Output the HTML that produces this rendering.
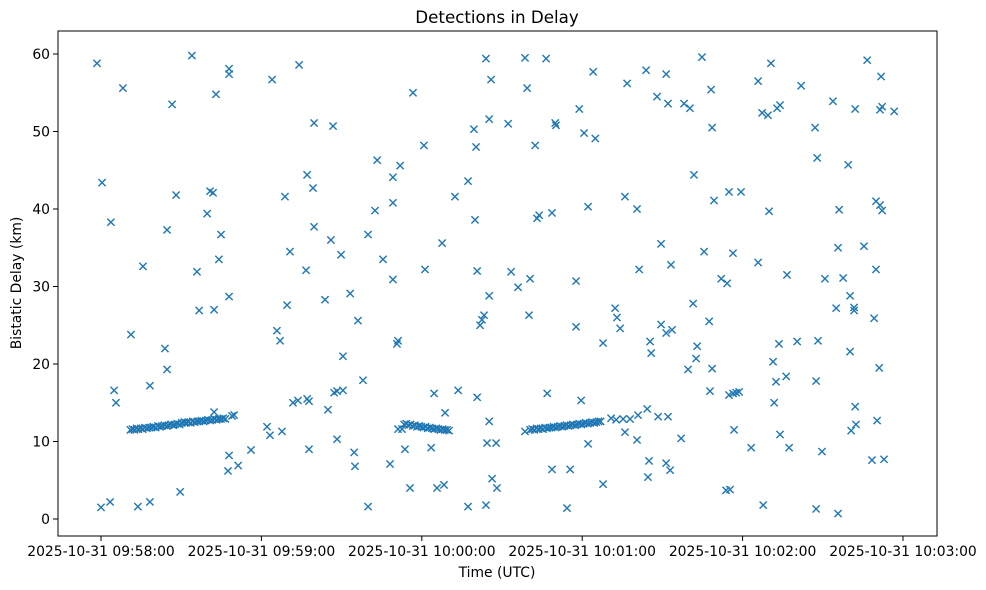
<!DOCTYPE html>
<html><head><meta charset="utf-8"><style>
html,body{margin:0;padding:0;background:#fff;}
svg{display:block;font-family:"DejaVu Sans","Liberation Sans",sans-serif;}
</style></head><body>
<svg id="chart" width="986" height="590" viewBox="0 0 986 590" xmlns="http://www.w3.org/2000/svg">
<rect x="0" y="0" width="986" height="590" fill="#fff"/>
<text x="497" y="23" text-anchor="middle" font-size="16.7" fill="#000">Detections in Delay</text>
<g id="marks"></g>
<g id="xaxis"></g>
<g id="yaxis"></g>
<rect x="58" y="31" width="879" height="505" fill="none" stroke="#000" stroke-width="1"/>
<text x="497" y="577" text-anchor="middle" font-size="13.9" fill="#000">Time (UTC)</text>
<text x="21" y="283" text-anchor="middle" font-size="13.9" fill="#000" transform="rotate(-90 21 283)">Bistatic Delay (km)</text>
</svg>
<script>
// seconds after 2025-10-31 09:58:00 UTC
const scatterTimes = [-1.5,0.4,0.0,3.7,3.4,4.9,5.6,8.2,11.2,15.7,13.8,18.3,18.3,23.9,24.7,24.7,26.6,28.1,29.6,34.0,35.9,36.7,39.7,40.8,41.9,42.3,43.0,44.1,44.9,47.9,47.9,47.9,47.9,47.5,49.0,49.8,51.3,56.1,62.1,63.2,64.0,65.8,67.0,67.7,68.8,69.6,70.7,71.8,74.1,73.7,76.7,77.1,77.1,77.8,77.8,79.3,79.7,79.7,83.8,84.9,86.0,86.8,87.2,88.3,90.5,88.3,89.8,90.5,93.2,94.7,95.0,96.1,98.0,99.9,99.9,102.5,103.3,105.5,108.1,109.2,109.2,109.2,110.7,111.1,111.1,111.9,113.7,115.6,116.7,120.8,121.2,123.5,124.6,125.7,128.3,127.6,128.7,132.4,133.6,137.3,137.3,139.5,140.3,139.9,140.7,140.7,141.8,142.5,143.3,144.0,144.0,144.4,145.2,145.2,145.2,145.9,146.3,148.1,147.8,152.3,153.4,156.0,158.6,159.4,160.1,160.5,158.6,162.4,163.1,163.9,166.5,166.9,168.7,168.7,169.9,170.2,174.3,175.5,177.7,177.7,178.9,179.6,180.7,182.2,182.2,184.1,184.9,187.8,187.8,192.3,193.0,194.2,196.0,196.0,196.8,200.5,200.5,200.9,201.3,203.9,204.3,205.0,204.6,205.8,205.4,208.0,208.4,209.5,209.5,211.4,211.4,212.9,212.1,211.4,213.6,212.1,213.2,217.0,218.1,220.3,219.6,221.5,221.8,222.6,223.0,224.8,225.6,227.5,227.8,228.2,228.6,228.6,229.3,232.0,233.8,235.3,234.2,234.9,236.4,236.8,234.9,236.4,237.6,238.7,239.4,243.2,245.8,245.8,247.3,247.7,249.5,249.9,250.6,251.4,251.8,252.5,252.9,254.0,253.6,254.0,256.3,256.6,257.4,260.4,261.9,267.1,267.9,267.5,268.2,267.5,269.7,270.8,273.8,275.0,275.7,275.7,276.1,277.6,279.5,280.2,280.2,280.6,281.7,281.7,282.1,282.1,282.4,285.4,286.6,288.4,289.2,289.9,290.3,289.9,291.1,291.4,292.2,291.4,292.2,291.8,292.9,296.7,42.3,190.8,192.7,195.3,197.9];
const scatterDelays = [58.8,43.4,1.5,38.3,2.2,16.6,15.0,55.6,23.8,32.6,1.6,2.2,17.2,22.0,19.3,37.3,53.5,41.8,3.5,59.8,31.9,26.9,39.4,42.3,42.1,27.0,54.8,33.5,36.7,58.1,57.4,28.7,8.2,6.2,13.3,13.4,6.9,8.9,11.9,10.8,56.7,24.3,23.0,11.3,41.6,27.6,34.5,15.0,58.6,15.3,32.1,44.4,15.5,15.2,9.0,42.7,51.1,37.7,28.3,14.1,36.0,50.7,16.3,16.5,16.6,10.3,34.1,21.0,29.1,8.6,6.8,25.6,17.9,1.6,36.7,39.8,46.3,33.5,7.1,44.1,40.8,30.9,22.6,23.0,11.6,45.6,9.0,4.0,55.0,48.2,32.2,9.2,16.2,4.0,4.4,35.6,13.7,41.6,16.6,43.6,1.6,50.3,48.0,38.6,32.0,15.7,25.0,25.7,26.3,59.4,1.8,9.8,12.6,28.8,51.6,56.7,5.2,4.0,9.8,51.0,31.9,29.9,59.5,55.6,26.3,31.0,11.3,48.2,38.8,39.2,59.4,16.2,6.4,39.5,51.1,50.8,1.4,6.4,30.7,24.8,52.9,15.3,49.8,40.3,9.7,57.7,49.1,22.7,4.5,27.2,26.0,24.6,41.6,11.2,56.2,40.0,10.2,13.4,32.2,57.9,14.2,7.5,5.4,21.4,22.9,54.5,13.2,35.5,25.1,57.4,7.2,6.3,13.2,24.0,24.4,53.6,32.8,10.4,53.6,53.0,19.3,27.8,44.4,20.7,22.3,59.6,34.5,25.5,16.5,55.4,50.5,19.4,41.1,31.0,3.7,3.8,30.4,42.2,34.3,11.5,16.0,16.2,16.3,16.4,42.2,9.2,33.1,56.5,52.4,1.8,52.1,39.7,58.8,20.3,15.0,17.7,53.0,53.4,22.6,10.9,18.4,31.5,9.2,22.9,55.9,50.5,46.6,17.8,23.0,1.3,8.7,31.0,53.9,27.2,0.7,35.0,39.9,31.1,45.7,21.6,28.8,11.4,26.9,27.3,52.9,14.5,12.2,35.2,59.2,7.6,25.9,32.2,12.7,41.0,19.5,52.8,53.2,40.5,39.8,57.1,7.7,52.6,13.8,13.0,12.8,12.9,12.9];
const track1Times = [11.0,11.8,12.5,13.3,14.0,14.9,15.6,16.4,17.2,18.0,18.9,19.6,20.5,21.3,22.1,22.8,23.7,24.6,25.3,26.2,27.0,27.7,28.6,29.4,30.2,31.1,31.8,32.6,33.5,34.3,35.1,36.0,36.8,37.6,38.4,39.2,40.0,40.9,41.6,42.5,43.3,44.1,44.9,45.7,46.5];
const track1Delays = [11.5,11.6,11.5,11.7,11.6,11.7,11.6,11.8,11.7,11.8,11.8,11.9,11.8,12.0,11.9,12.0,12.1,12.0,12.1,12.2,12.1,12.2,12.3,12.2,12.4,12.5,12.4,12.5,12.4,12.6,12.5,12.6,12.6,12.7,12.6,12.7,12.8,12.7,12.8,12.9,12.8,12.9,12.9,13.0,12.9];
const track2Times = [112.6,113.4,114.2,115.0,115.8,116.6,117.4,118.2,119.0,119.8,120.6,121.4,122.2,123.0,123.8,124.6,125.4,126.2,127.0,127.8,128.6,129.4,130.2];
const track2Delays = [11.6,12.2,12.3,12.1,12.2,12.0,12.1,11.9,12.0,11.9,11.8,11.9,11.7,11.8,11.7,11.6,11.7,11.6,11.5,11.6,11.5,11.5,11.4];
const track3Times = [160.5,161.3,162.1,162.9,163.7,164.5,165.3,166.1,166.9,167.7,168.5,169.3,170.1,170.9,171.7,172.5,173.3,174.1,174.9,175.7,176.5,177.3,178.1,178.9,179.7,180.5,181.3,182.1,182.9,183.7,184.5,185.3,186.1,186.9];
const track3Delays = [11.5,11.6,11.5,11.7,11.6,11.7,11.6,11.8,11.7,11.8,11.8,11.9,11.8,11.9,12.0,11.9,12.0,12.1,12.0,12.1,12.2,12.1,12.2,12.3,12.2,12.3,12.4,12.3,12.4,12.5,12.4,12.5,12.6,12.6];
const xTickSeconds = [0,60,120,180,240,300];
const xTickLabels = ["2025-10-31 09:58:00","2025-10-31 09:59:00","2025-10-31 10:00:00","2025-10-31 10:01:00","2025-10-31 10:02:00","2025-10-31 10:03:00"];
const yTickValues = [0,10,20,30,40,50,60];

const NS = "http://www.w3.org/2000/svg";
function xScale(s){ return 101 + s * (802/300); }
function yScale(v){ return 519 - v * (465/60); }

const marks = document.getElementById('marks');
function drawX(t, d){
  const cx = xScale(t), cy = yScale(d), r = 3.6;
  const p = document.createElementNS(NS, 'path');
  p.setAttribute('d', `M${cx-r},${cy-r}L${cx+r},${cy+r}M${cx-r},${cy+r}L${cx+r},${cy-r}`);
  p.setAttribute('stroke', '#1f77b4');
  p.setAttribute('stroke-width', '1.4');
  p.setAttribute('fill', 'none');
  
  
  marks.appendChild(p);
}
[[scatterTimes,scatterDelays],[track1Times,track1Delays],[track2Times,track2Delays],[track3Times,track3Delays]].forEach(([ts,ds])=>{
  for(let i=0;i<Math.min(ts.length,ds.length);i++) drawX(ts[i], ds[i]);
});

const xa = document.getElementById('xaxis');
xTickSeconds.forEach((s,i)=>{
  const x = xScale(s);
  const l = document.createElementNS(NS,'line');
  l.setAttribute('x1',x); l.setAttribute('x2',x); l.setAttribute('y1',536); l.setAttribute('y2',541);
  l.setAttribute('stroke','#000');
  
  
  xa.appendChild(l);
  const t = document.createElementNS(NS,'text');
  t.setAttribute('x',x); t.setAttribute('y',556); t.setAttribute('text-anchor','middle');
  t.setAttribute('font-size','13.9');
  t.textContent = xTickLabels[i];
  
  
  xa.appendChild(t);
});
const ya = document.getElementById('yaxis');
yTickValues.forEach(v=>{
  const y = yScale(v);
  const l = document.createElementNS(NS,'line');
  l.setAttribute('x1',53); l.setAttribute('x2',58); l.setAttribute('y1',y); l.setAttribute('y2',y);
  l.setAttribute('stroke','#000');
  
  
  ya.appendChild(l);
  const t = document.createElementNS(NS,'text');
  t.setAttribute('x',50); t.setAttribute('y',y+5); t.setAttribute('text-anchor','end');
  t.setAttribute('font-size','13.9');
  t.textContent = String(v);
  
  
  ya.appendChild(t);
});
</script>
</body></html>
